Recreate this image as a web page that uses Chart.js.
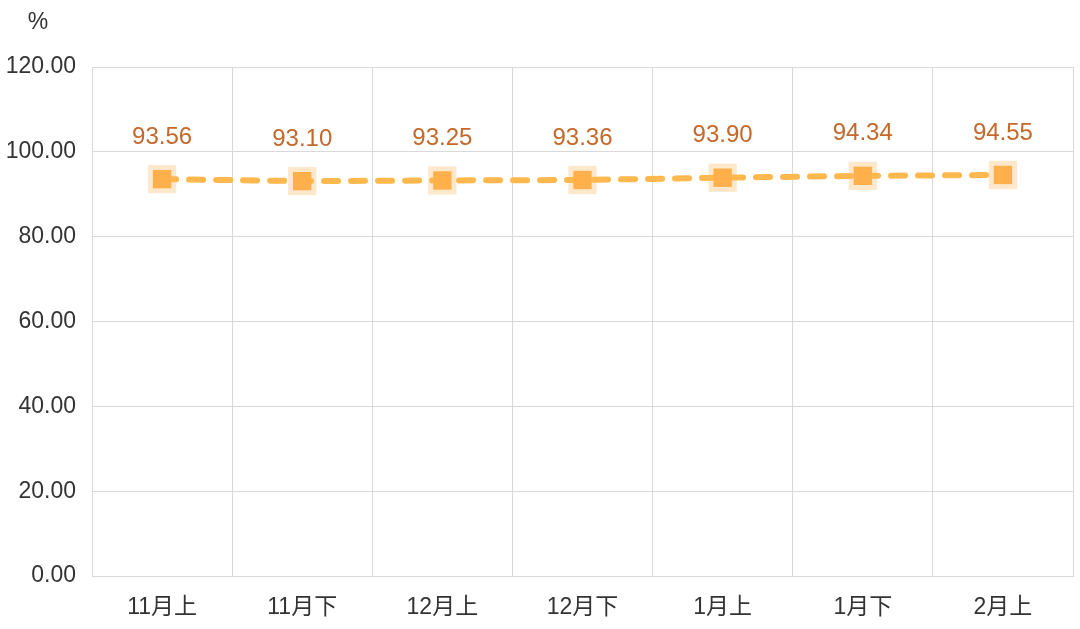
<!DOCTYPE html>
<html>
<head>
<meta charset="utf-8">
<script src="https://cdn.jsdelivr.net/npm/chart.js@4.4.0/dist/chart.umd.min.js"></script>
<style>
  html, body { margin: 0; padding: 0; background: #fff; overflow: hidden; }
  canvas { display: block; }
</style>
</head>
<body>
<canvas id="rateChart" width="1080" height="629"></canvas>
<script>
const categories = ["11月上", "11月下", "12月上", "12月下", "1月上", "1月下", "2月上"];
const rateValues = [93.56, 93.10, 93.25, 93.36, 93.90, 94.34, 94.55];
const yTicks = [0, 20, 40, 60, 80, 100, 120];

const FONT = "'Liberation Sans', 'Noto Sans CJK SC', sans-serif";

// big square markers would otherwise push the plot area in from the right edge
Chart.LineController.prototype.getMaxOverflow = function () { return 0; };

// value labels above points + "%" unit text
const labelPlugin = {
  id: "valueLabels",
  afterDatasetsDraw(chart) {
    const ctx = chart.ctx;
    const meta = chart.getDatasetMeta(1);
    ctx.save();
    ctx.font = "24px " + FONT;
    ctx.fillStyle = "#c4682b";
    ctx.textAlign = "center";
    ctx.textBaseline = "middle";
    meta.data.forEach((pt, i) => {
      ctx.fillText(rateValues[i].toFixed(2), pt.x, pt.y - 42);
    });
    ctx.fillStyle = "#333";
    ctx.font = "23px " + FONT;
    ctx.fillText("%", 38, 23);
    ctx.restore();
  },
};

const ctx = document.getElementById("rateChart").getContext("2d");
const chart = new Chart(ctx, {
  type: "line",
  data: {
    labels: categories,
    datasets: [
      {
        // halo behind markers
        data: rateValues,
        showLine: false,
        pointStyle: "rect",
        pointRadius: 20,
        pointBackgroundColor: "#fde8cc",
        pointBorderWidth: 0,
        order: 2,
      },
      {
        data: rateValues,
        borderColor: "#ffb84d",
        borderWidth: 6,
        borderDash: [14, 13],
        borderCapStyle: "round",
        tension: 0,
        fill: false,
        pointStyle: "rect",
        pointRadius: 13,
        pointBackgroundColor: "#ffb04a",
        pointBorderWidth: 0,
        order: 1,
      },
    ],
  },
  options: {
    responsive: false,
    animation: false,
    layout: { padding: { top: 67, right: 7, left: 0, bottom: 0 } },
    plugins: {
      legend: { display: false },
      tooltip: { enabled: false },
    },
    scales: {
      x: {
        offset: true,
        grid: { color: "#d9d9d9", offset: true, drawTicks: false },
        border: { color: "#d9d9d9" },
        ticks: { color: "#333", font: { size: 23, family: FONT }, padding: 18 },
        afterFit: (scale) => {
          scale.height = 53;
          scale.paddingLeft = 0;
          scale.paddingRight = 0;
        },
      },
      y: {
        min: 0,
        max: 120,
        afterBuildTicks: (scale) => { scale.ticks = yTicks.map((v) => ({ value: v })); },
        grid: { color: "#d9d9d9", drawTicks: false },
        border: { color: "#d9d9d9" },
        ticks: {
          color: "#333",
          font: { size: 23, family: FONT },
          padding: 16,
          callback: (v) => Number(v).toFixed(2),
        },
        afterFit: (scale) => { scale.width = 92; },
      },
    },
  },
  plugins: [labelPlugin],
});
</script>
</body>
</html>
